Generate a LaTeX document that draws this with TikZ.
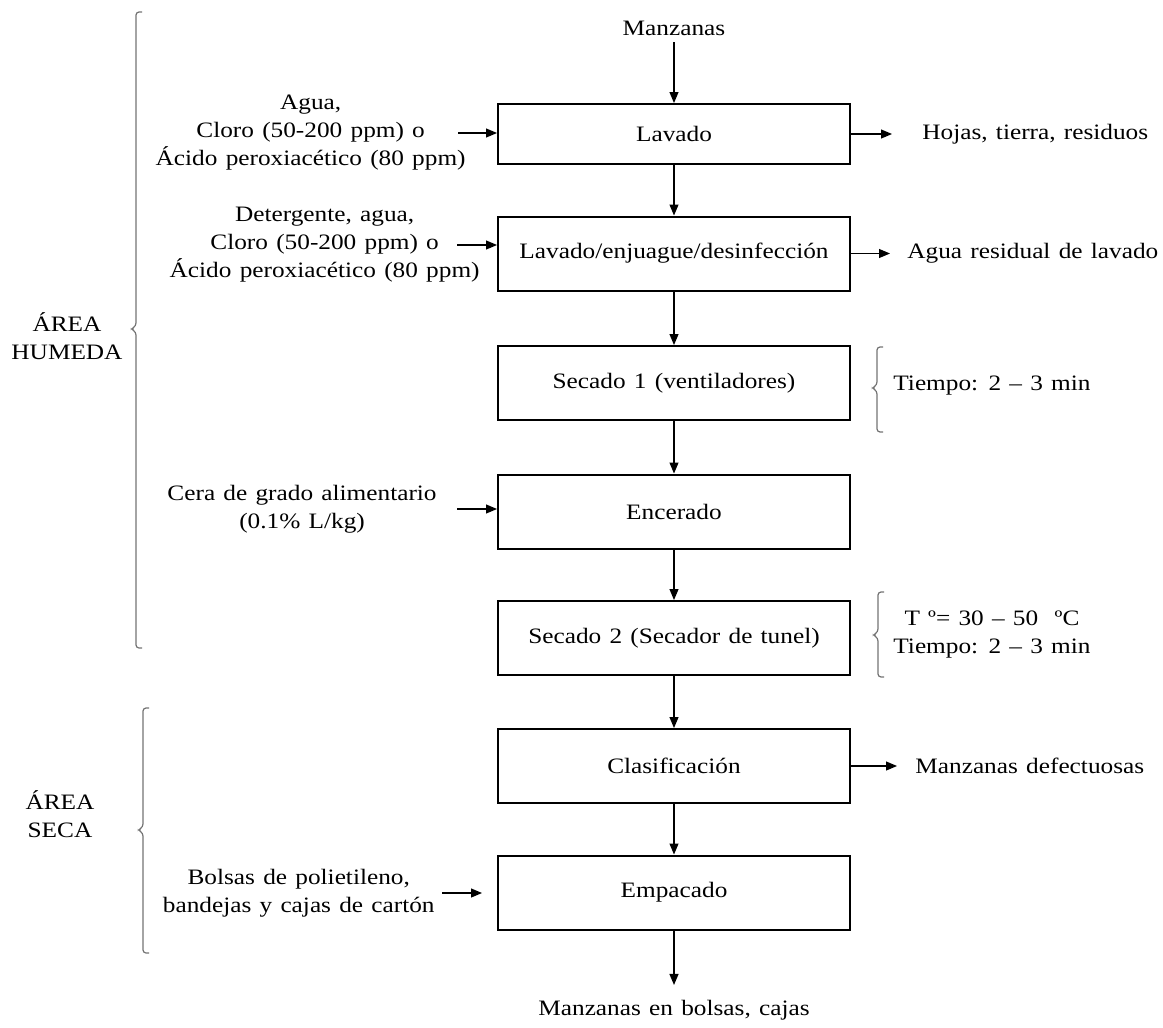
\documentclass[tikz,border=0pt]{standalone}
\usepackage{fontspec}
\setmainfont{Liberation Serif}[FakeStretch=1.15,WordSpace=1.3]
\usetikzlibrary{arrows.meta}

\begin{document}
\begin{tikzpicture}[x=0.5pt,y=-0.5pt,font=\fontsize{11}{14}\selectfont,
    proc/.style={draw,line width=1pt,minimum width=176pt,minimum height=37pt,inner sep=0pt},
    lbl/.style={align=center,inner sep=0pt},
    flow/.style={line width=0.6pt,-{Triangle[length=5.5pt,width=4.5pt]}},
    brace/.style={draw=black!55,line width=0.6pt,rounded corners=1.5pt}]
    \useasboundingbox (0,0) rectangle (1163,1028);

    \node[proc,minimum height=30pt] (lav) at (674,134) {Lavado};
    \node[proc] (lavd) at (674,253.5) {Lavado/enjuague/desinfección};
    \node[proc] (sec1) at (674,383) {Secado 1 (ventiladores)};
    \node[proc] (enc) at (674,511.5) {Encerado};
    \node[proc] (sec2) at (674,638) {Secado 2 (Secador de tunel)};
    \node[proc] (clas) at (674,766) {Clasificación};
    \node[proc] (emp) at (674,892.5) {Empacado};

    \node (manz) at (674,28) {Manzanas};
    \node (fin) at (674,1010) {Manzanas en bolsas, cajas};

    \node[lbl,anchor=east] (agua) at (466,133) {Agua,\\Cloro (50-200 ppm) o\\Ácido peroxiacético (80 ppm)};
    \node[lbl,anchor=east] (deter) at (480,245) {Detergente, agua,\\Cloro (50-200 ppm) o\\Ácido peroxiacético (80 ppm)};
    \node[lbl,anchor=east] (cera) at (437,509) {Cera de grado alimentario\\(0.1\% L/kg)};
    \node[lbl,anchor=east] (bolsas) at (435,893) {Bolsas de polietileno,\\bandejas y cajas de cartón};

    \node[lbl,anchor=west] (hojas) at (922,134) {Hojas, tierra, residuos};
    \node[lbl,anchor=west] (resid) at (907,253.5) {Agua residual de lavado};
    \node[lbl,anchor=west] (defec) at (915,766) {Manzanas defectuosas};
    \node[lbl,anchor=west] (t1) at (893,386) {Tiempo: 2 – 3 min};
    \node[lbl,anchor=west] (t2) at (893,635) {T º= 30 – 50 \ ºC\\Tiempo: 2 – 3 min};

    \node[lbl] (hum) at (67,336) {ÁREA\\HUMEDA};
    \node[lbl] (seca) at (60,814) {ÁREA\\SECA};

    \coordinate (s1) at (458,133);
    \coordinate (s2) at (457,245);
    \coordinate (s3) at (457,509);
    \coordinate (s4) at (442,893);
    \coordinate (e4) at (482,893);
    \coordinate (e1) at (892,134);
    \coordinate (e2) at (890,253.5);
    \coordinate (e3) at (897,766);

    \draw[flow] (manz) -- (lav);
    \draw[flow] (lav) -- (lavd);
    \draw[flow] (lavd) -- (sec1);
    \draw[flow] (sec1) -- (enc);
    \draw[flow] (enc) -- (sec2);
    \draw[flow] (sec2) -- (clas);
    \draw[flow] (clas) -- (emp);
    \draw[flow,shorten >=4pt] (emp) -- (fin);

    \draw[flow] (s1) -- (lav.west |- s1);
    \draw[flow] (s2) -- (lavd.west |- s2);
    \draw[flow] (s3) -- (enc.west |- s3);
    \draw[flow] (s4) -- (e4);
    \draw[flow] (lav) -- (e1);
    \draw[flow] (lavd) -- (e2);
    \draw[flow] (clas) -- (e3);

    \foreach \x/\t/\m/\b in {136/12/329/648, 143/708/830/953, 877/347/388/432, 878/592/635/677}
        \draw[brace] (\x+6,\t) -- (\x,\t) -- (\x,\m-3) -- (\x-5,\m) -- (\x,\m+3) -- (\x,\b) -- (\x+6,\b);
\end{tikzpicture}
\end{document}
